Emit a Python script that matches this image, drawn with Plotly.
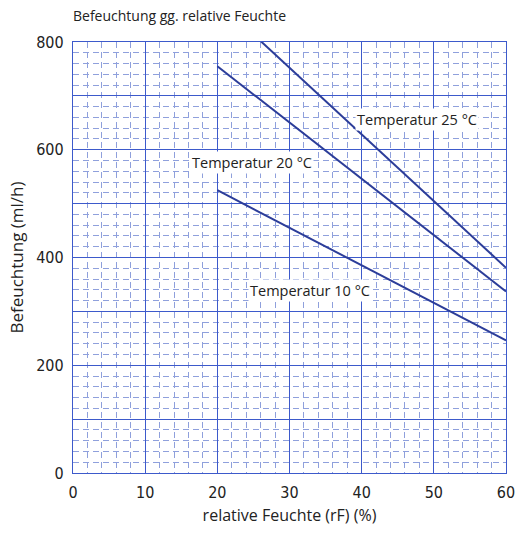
import plotly.graph_objects as go

x_vals = [20, 60]
t10 = [525, 246]
t20 = [755, 337]
t25 = [876, 381]

labels = ["Temperatur 10 °C", "Temperatur 20 °C", "Temperatur 25 °C"]
label_x = [32.8, 24.8, 47.7]
label_y = [338, 577, 657]

y_ticks = [0, 100, 200, 300, 400, 500, 600, 700, 800]
y_text = ["0", "", "200", "", "400", "", "600", "", "800"]
x_ticks = [0, 10, 20, 30, 40, 50, 60]

line_color = "#2c3d99"
major = "#3d5acb"
minor = "#8fa0dc"
font_main = "Liberation Sans Narrow, DejaVu Sans Condensed, sans-serif"
font_text = "Open Sans, Noto Sans, sans-serif"

fig = go.Figure()
for ys in (t10, t20, t25):
    fig.add_trace(go.Scatter(x=x_vals, y=ys, mode="lines",
                             line=dict(color=line_color, width=2),
                             showlegend=False, hoverinfo="skip"))

for t, lx, ly in zip(labels, label_x, label_y):
    fig.add_annotation(x=lx, y=ly, text=t, showarrow=False,
                       bgcolor="white", borderpad=1,
                       font=dict(family=font_text, size=14.5, color="#222"))

axis_common = dict(showgrid=True, gridcolor=major, gridwidth=1.3,
                   showline=True, linecolor=major, linewidth=1.3, mirror=True,
                   zeroline=False, ticks="", automargin=False,
                   tickfont=dict(family=font_main, size=16, color="#222"))

fig.update_xaxes(range=[0, 60], tickvals=x_ticks, **axis_common,
                 ticklabelstandoff=5,
                 minor=dict(dtick=2, showgrid=True, gridcolor=minor,
                            griddash="6px,4px", gridwidth=1.2),
                 title=dict(text="relative Feuchte (rF) (%)",
                            font=dict(family=font_text, size=16, color="#222"),
                            standoff=8))
fig.update_yaxes(range=[0, 800], tickvals=y_ticks, ticktext=y_text, **axis_common,
                 ticklabelstandoff=5,
                 minor=dict(dtick=20, showgrid=True, gridcolor=minor,
                            griddash="6px,4px", gridwidth=1.2),
                 title=dict(text="Befeuchtung (ml/h)",
                            font=dict(family=font_text, size=17, color="#222"),
                            standoff=8))

fig.update_layout(
    width=519, height=536,
    margin=dict(l=73, r=13, t=42, b=63),
    paper_bgcolor="white", plot_bgcolor="white",
    title=dict(text="Befeuchtung gg. relative Feuchte", x=0, xref="paper",
               xanchor="left", y=0.970, yref="container", yanchor="middle",
               font=dict(family=font_text, size=14, color="#222")),
)
fig.write_html("out.html", config={"displayModeBar": False},
               post_script="document.body.style.margin='0';")
